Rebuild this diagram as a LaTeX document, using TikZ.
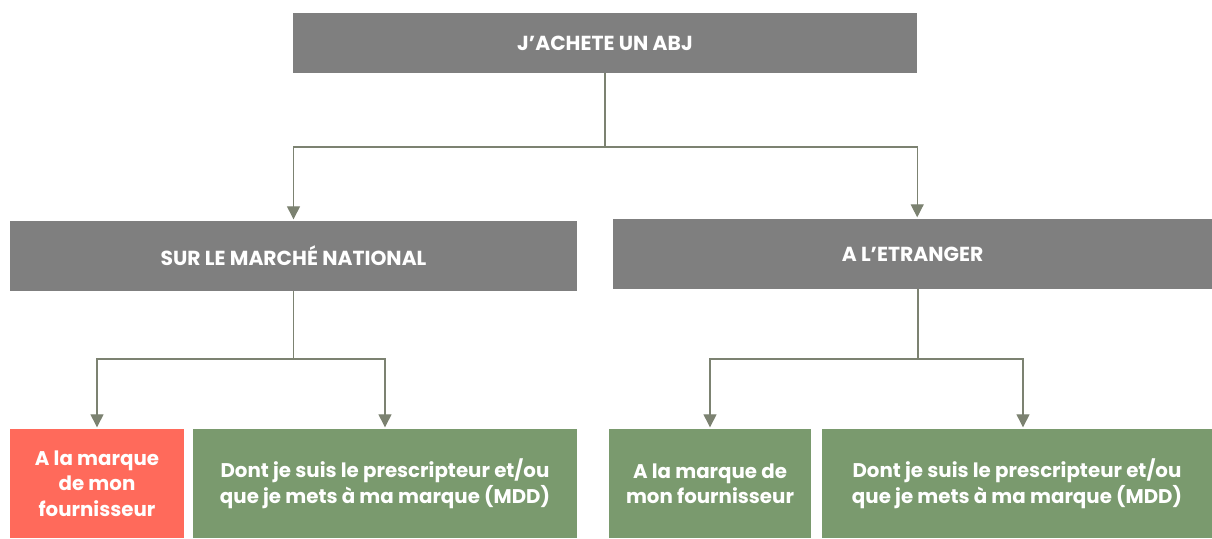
\documentclass[tikz,border=0pt]{standalone}
\usepackage{fontspec}
\setmainfont{Poppins}
\usetikzlibrary{arrows.meta,calc}
\definecolor{boxgray}{HTML}{7F7F7F}
\definecolor{boxgreen}{HTML}{7A9A6E}
\definecolor{boxred}{HTML}{FF6A5B}
\definecolor{linecol}{HTML}{7C8271}
\begin{document}
\begin{tikzpicture}[x=1pt,y=-1pt,
  box/.style={rectangle, inner sep=0pt, text=white, font=\bfseries, align=center},
  graybox/.style={box, fill=boxgray, font=\bfseries\fontsize{20.3}{24}\selectfont},
  greenbox/.style={box, fill=boxgreen, font=\bfseries\fontsize{19.8}{25.5}\selectfont},
  redbox/.style={box, fill=boxred, font=\bfseries\fontsize{19.8}{25.5}\selectfont},
  conn/.style={draw=linecol, line width=1.3pt},
  arr/.style={conn, -{Triangle[width=13pt,length=13pt]}, shorten >=1.5pt}]
\fill[white] (0,0) rectangle (1212,538);
\node[graybox, minimum width=624pt, minimum height=60pt] (top) at (605,43) {J’ACHETE UN ABJ};
\node[graybox, minimum width=567pt, minimum height=70pt] (nat) at (293.5,256) {SUR LE MARCHÉ NATIONAL};
\node[graybox, minimum width=599pt, minimum height=70pt] (etr) at (912.5,254) {A L’ETRANGER};
\node[redbox, minimum width=174pt, minimum height=109pt] (b1) at (97,483.5) {A la marque\\de mon\\fournisseur};
\node[greenbox, minimum width=384pt, minimum height=109pt] (b2) at (385,483.5) {Dont je suis le prescripteur et/ou\\que je mets à ma marque (MDD)};
\node[greenbox, minimum width=202pt, minimum height=109pt] (b3) at (710,483.5) {A la marque de\\mon fournisseur};
\node[greenbox, minimum width=390pt, minimum height=109pt] (b4) at (1017,483.5) {Dont je suis le prescripteur et/ou\\que je mets à ma marque (MDD)};
\coordinate (j1) at (605,147);
\coordinate (j2) at (293.5,359);
\coordinate (j3) at (918,359);
\draw[conn] (top.south) -- (j1);
\draw[arr] (j1) -| (nat.north);
\draw[arr] (j1) -| (etr.north -| top.east);
\draw[conn] (nat.south) -- (j2);
\draw[arr] (j2) -| (b1.north);
\draw[arr] (j2) -| (b2.north);
\draw[conn] (etr.south -| j3) -- (j3);
\draw[arr] (j3) -| (b3.north);
\draw[arr] (j3) -| ([xshift=6pt]b4.north);
\end{tikzpicture}
\end{document}
